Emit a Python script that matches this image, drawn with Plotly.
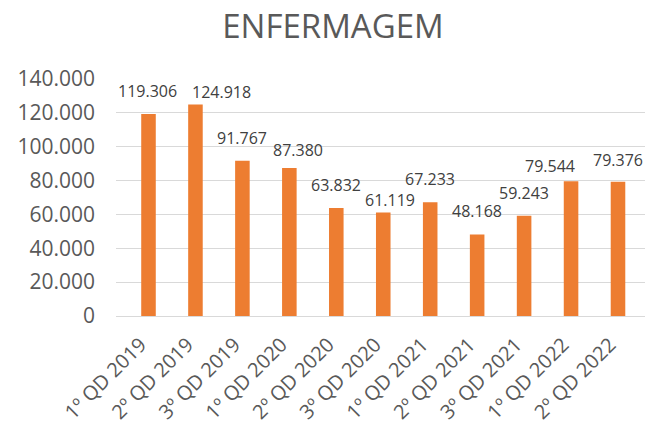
import plotly.graph_objects as go

categories = ["1º QD 2019", "2º QD 2019", "3º QD 2019", "1º QD 2020", "2º QD 2020",
              "3º QD 2020", "1º QD 2021", "2º QD 2021", "3º QD 2021", "1º QD 2022", "2º QD 2022"]
values = [119306, 124918, 91767, 87380, 63832, 61119, 67233, 48168, 59243, 79544, 79376]
y_tick_vals = [0, 20000, 40000, 60000, 80000, 100000, 120000, 140000]

# label nudges (pixels) mimicking manually placed data labels
label_dx = [-1, 26, 0, 9, 0, 7, 0, 0, 0, -21, 0]
label_dy = [23, 13, 23, 18, 23, 13, 23, 23, 23, 15, 22]

FONT = "Open Sans"
GREY = "#595959"

fig = go.Figure()
fig.add_trace(go.Bar(
    x=categories, y=values,
    marker=dict(color="#ED7D31", line=dict(width=0)),
    width=0.31,
    hoverinfo="skip",
))

for c, v, dx, dy in zip(categories, values, label_dx, label_dy):
    fig.add_annotation(
        x=c, y=v, xref="x", yref="y",
        text=f"{v:,}".replace(",", "."),
        showarrow=False, xanchor="center", yanchor="middle",
        xshift=dx, yshift=dy,
        font=dict(family=FONT, size=16, color="#404040"),
    )

# page body has an 8px default margin, so figure coordinates are offset by 8px
fig.update_layout(
    width=657, height=427,
    margin=dict(l=108, r=20, t=71, b=119),
    paper_bgcolor="white", plot_bgcolor="white",
    separators=",.",
    showlegend=False,
    title=dict(text="ENFERMAGEM", x=0.4947, xref="container", xanchor="center",
               y=0.957, yref="container", yanchor="middle",
               font=dict(family=FONT, size=33, color=GREY)),
    font=dict(family=FONT, color=GREY),
    xaxis=dict(
        tickangle=-45, tickfont=dict(family=FONT, size=20, color=GREY),
        showgrid=False, showline=True, linecolor="#d9d9d9", linewidth=1,
        automargin=False, ticks="",
        ticklabelstandoff=8, ticklabelshift=-8,
    ),
    yaxis=dict(
        range=[0, 140000], tickvals=y_tick_vals, tickformat=",.0f",
        tickfont=dict(family=FONT, size=21, color=GREY),
        showgrid=True, gridcolor="#d9d9d9", gridwidth=1,
        zeroline=False, showline=False, automargin=False,
        ticklabelstandoff=20,
    ),
)

fig.write_html("out.html")
